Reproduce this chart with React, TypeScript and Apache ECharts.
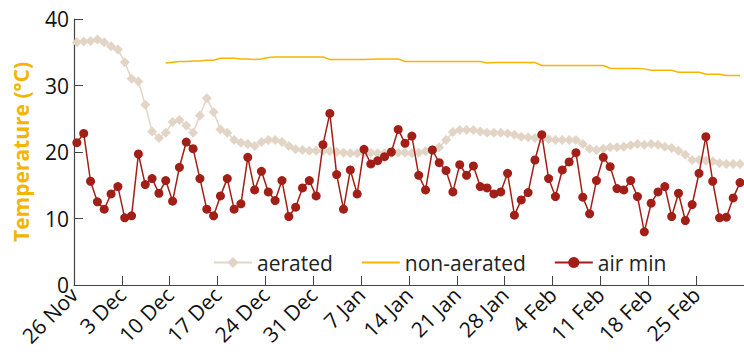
import React, { useEffect, useRef } from "react";
import * as echarts from "echarts";

const START_LABELS = ["26 Nov", "3 Dec", "10 Dec", "17 Dec", "24 Dec", "31 Dec", "7 Jan", "14 Jan", "21 Jan", "28 Jan", "4 Feb", "11 Feb", "18 Feb", "25 Feb"];
const DAY_OFFSET = 0.42;

const airMin = [
  21.4, 22.8, 15.6, 12.5, 11.4, 13.7, 14.8, 10.1, 10.4, 19.7,
  15.1, 16.0, 13.8, 15.7, 12.6, 17.7, 21.5, 20.5, 16.0, 11.4,
  10.4, 13.4, 16.0, 11.4, 12.2, 19.2, 14.3, 17.1, 14.0, 12.7,
  15.7, 10.3, 11.7, 14.6, 15.7, 13.4, 21.1, 25.8, 16.6, 11.4,
  17.3, 13.7, 20.4, 18.2, 18.7, 19.3, 20.0, 23.4, 21.3, 22.4,
  16.5, 14.3, 20.3, 18.4, 17.2, 14.0, 18.1, 16.5, 17.9, 14.8,
  14.6, 13.7, 14.0, 16.8, 10.5, 12.8, 13.9, 18.8, 22.6, 16.0,
  13.3, 17.3, 18.5, 19.9, 13.2, 10.7, 15.7, 19.2, 17.8, 14.5,
  14.3, 15.7, 13.3, 8.0, 12.3, 14.0, 14.8, 10.3, 13.8, 9.7,
  12.1, 16.8, 22.3, 15.6, 10.1, 10.2, 13.1, 15.4,
];

const aerated = [
  36.5, 36.6, 36.7, 36.9, 36.5, 35.9, 35.4, 33.5, 31.0, 30.6,
  27.1, 23.1, 22.1, 22.9, 24.5, 24.8, 24.0, 22.9, 25.5, 28.1,
  26.0, 23.4, 22.9, 21.8, 21.4, 21.2, 20.9, 21.5, 21.8, 21.8,
  21.5, 20.9, 20.4, 20.3, 20.2, 20.2, 20.2, 20.1, 20.0, 19.9,
  19.8, 19.8, 19.8, 19.9, 19.8, 19.8, 19.8, 19.9, 19.9, 19.8,
  19.9, 20.1, 20.4, 20.7, 21.8, 23.0, 23.3, 23.3, 23.3, 23.1,
  22.9, 22.9, 22.9, 22.8, 22.6, 22.3, 22.2, 22.1, 22.0, 21.9,
  21.8, 21.8, 21.8, 21.8, 21.2, 20.5, 20.3, 20.5, 20.7, 20.7,
  20.8, 21.0, 21.2, 21.1, 21.2, 21.1, 20.8, 20.6, 20.2, 19.6,
  18.8, 18.8, 18.7, 18.6, 18.3, 18.2, 18.2, 18.2,
];

const nonAerated = [
  null, null, null, null, null, null, null, null, null, null,
  null, null, null, 33.4, 33.5, 33.6, 33.6, 33.7, 33.7, 33.8,
  33.8, 34.1, 34.1, 34.1, 34.0, 34.0, 33.9, 34.0, 34.2, 34.3,
  34.3, 34.3, 34.3, 34.3, 34.3, 34.3, 34.3, 33.9, 33.9, 33.9,
  33.9, 33.9, 33.9, 33.95, 34.0, 34.0, 34.0, 34.0, 33.6, 33.6,
  33.6, 33.6, 33.6, 33.6, 33.6, 33.6, 33.6, 33.6, 33.6, 33.6,
  33.4, 33.45, 33.45, 33.45, 33.45, 33.45, 33.45, 33.45, 33.0, 33.0,
  33.0, 33.0, 33.0, 33.0, 33.0, 33.0, 33.0, 33.0, 32.6, 32.55,
  32.55, 32.55, 32.55, 32.5, 32.3, 32.3, 32.3, 32.3, 32.0, 32.0,
  32.0, 32.0, 31.7, 31.7, 31.7, 31.5, 31.5, 31.5,
];

const FONT = "'Open Sans', sans-serif";

const toPairs = (arr: (number | null)[]) =>
  arr.map((v, i) => [i + DAY_OFFSET, v === null ? "-" : v]);

export default function App() {
  const ref = useRef<HTMLDivElement>(null);
  useEffect(() => {
    if (!ref.current) return;
    const chart = echarts.init(ref.current, null, { renderer: "svg" });
    chart.setOption({
      animation: false,
      textStyle: { fontFamily: FONT },
      grid: { left: 74, top: 19, width: 671, height: 266 },
      legend: {
        left: 208,
        top: 247,
        itemWidth: 38,
        itemHeight: 14,
        itemGap: 28,
        textStyle: { fontFamily: FONT, fontSize: 21, color: "#222" },
        data: [
          { name: "aerated" },
          { name: "non-aerated", itemStyle: { opacity: 0 } },
          { name: "air min" },
        ],
      },
      xAxis: {
        type: "value",
        min: 0,
        max: 98,
        interval: 7,
        splitLine: { show: false },
        axisLine: { lineStyle: { color: "#444", width: 1.2 } },
        axisTick: { inside: true, length: 9, lineStyle: { color: "#444" } },
        axisLabel: {
          rotate: 45,
          fontSize: 21,
          color: "#111",
          fontFamily: FONT,
          margin: 6,
          showMaxLabel: false,
          formatter: (v: number) => {
            const idx = Math.round(v / 7);
            return Math.abs(v - idx * 7) < 1e-6 && idx < START_LABELS.length ? START_LABELS[idx] : "";
          },
        },
      },
      yAxis: {
        type: "value",
        min: 0,
        max: 40,
        interval: 10,
        splitLine: { show: false },
        axisLine: { show: true, lineStyle: { color: "#444", width: 1.2 } },
        axisTick: { show: true, inside: true, length: 9, lineStyle: { color: "#444" } },
        axisLabel: { fontSize: 21, color: "#111", fontFamily: FONT, margin: 5 },
        name: "Temperature (°C)",
        nameLocation: "middle",
        nameGap: 43,
        nameTextStyle: { color: "#F5B400", fontSize: 21, fontWeight: "bold", fontFamily: FONT },
      },
      series: [
        {
          name: "aerated",
          type: "line",
          data: toPairs(aerated),
          symbol: "diamond",
          symbolSize: 10,
          itemStyle: { color: "#E2D5C6" },
          lineStyle: { color: "#E2D5C6", width: 1.5 },
          z: 2,
        },
        {
          name: "non-aerated",
          type: "line",
          data: toPairs(nonAerated),
          showSymbol: false,
          symbol: "none",
          itemStyle: { color: "#F7B500" },
          lineStyle: { color: "#F7B500", width: 1.5 },
          z: 3,
        },
        {
          name: "air min",
          type: "line",
          data: toPairs(airMin),
          symbol: "circle",
          symbolSize: 9,
          itemStyle: { color: "#A11F16" },
          lineStyle: { color: "#A11F16", width: 1.5 },
          z: 4,
        },
      ],
    });
    return () => chart.dispose();
  }, []);
  return (
    <div
      ref={ref}
      style={{ position: "absolute", left: 0, top: 0, width: 744, height: 355 }}
    />
  );
}
